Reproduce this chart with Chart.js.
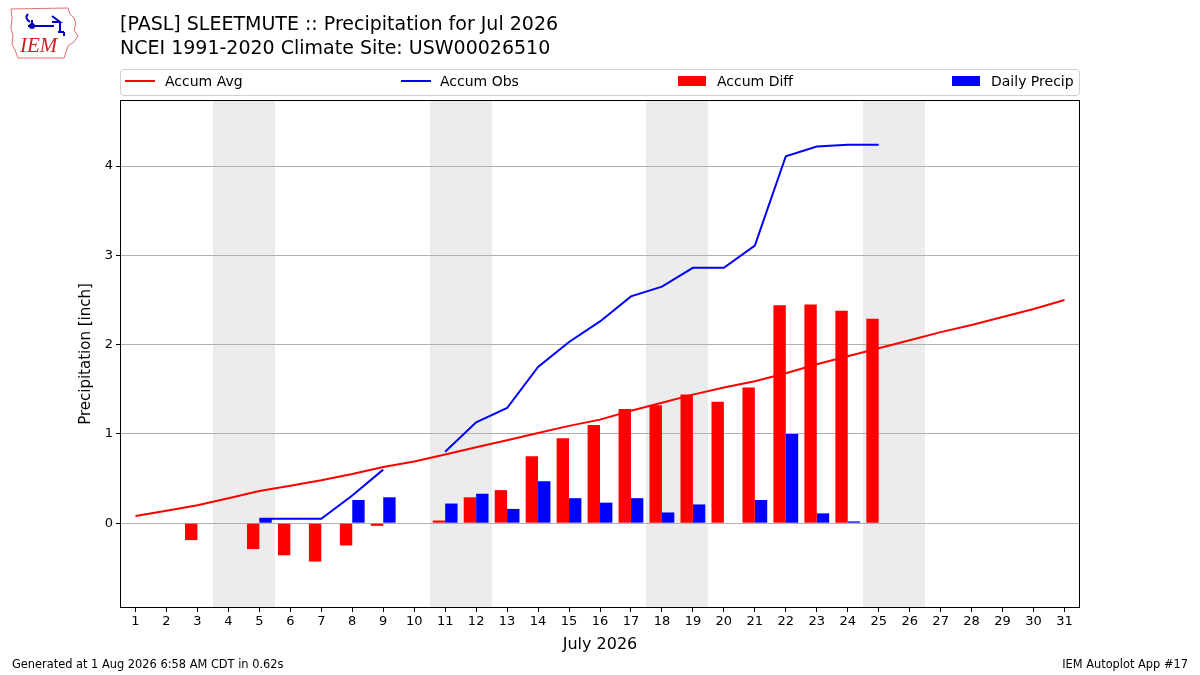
<html lang="en">
<head>
<meta charset="UTF-8">
<script src="https://cdn.jsdelivr.net/npm/chart.js"></script>
<title>Precipitation for Jul 2026</title>
<style>
  body { margin: 0; background: #fff; font-family: "DejaVu Sans", sans-serif; }
  #wrap { position: relative; width: 1200px; height: 675px; overflow: hidden; }
  #myChart { position: absolute; left: 0; top: 0; }
  .title { position: absolute; left: 120px; font-size: 19px; color: #000; white-space: nowrap; }
  #legend { position: absolute; left: 120px; top: 69px; width: 958px; height: 25px;
            border: 1px solid #d0d0d0; border-radius: 4px; font-size: 14px; }
  .item { position: absolute; top: -1px; height: 25px; line-height: 25px; white-space: nowrap; }
  .swline { position: absolute; top: 11px; width: 30px; height: 2px; }
  .swbox { position: absolute; top: 7px; width: 28px; height: 10px; }
  .foot { position: absolute; top: 657px; font-size: 11.4px; white-space: nowrap; }
</style>
</head>
<body>
<div id="wrap">
  <canvas id="myChart" width="1200" height="675"></canvas>
  <svg style="position:absolute;left:8px;top:6px" width="72" height="54" viewBox="0 0 72 54">
    <polygon points="3,3 60,2 62,8 66,12 68,18 66,24 70,30 66,36 60,40 58,46 56,52 10,52 7,44 4,38 5,30 3,22 4,12"
             fill="none" stroke="#e07070" stroke-width="1"/>
    <path d="M20,8 q-4,4 2,8 M24,14 l0,8 M20,20 l26,0 M44,10 l8,6 l-8,0 M52,16 l0,10 M50,26 l6,0 M56,26 l0,4"
          fill="none" stroke="#0000c0" stroke-width="2"/>
    <circle cx="24" cy="20" r="3" fill="#0000c0"/>
    <text x="12" y="46" font-family="Liberation Serif, serif" font-style="italic" font-size="21" fill="#d02020">IEM</text>
  </svg>
  <div class="title" style="top:12px">[PASL] SLEETMUTE :: Precipitation for Jul 2026</div>
  <div class="title" style="top:36px">NCEI 1991-2020 Climate Site: USW00026510</div>
  <div id="legend">
    <div class="item" style="left:4px"><span class="swline" style="left:0;background:#ff0000"></span><span style="margin-left:40px">Accum Avg</span></div>
    <div class="item" style="left:280px"><span class="swline" style="left:0;background:#0000ff"></span><span style="margin-left:39px">Accum Obs</span></div>
    <div class="item" style="left:557px"><span class="swbox" style="left:0;background:#ff0000"></span><span style="margin-left:39px">Accum Diff</span></div>
    <div class="item" style="left:831px"><span class="swbox" style="left:0;background:#0000ff"></span><span style="margin-left:39px">Daily Precip</span></div>
  </div>
  <div class="foot" style="left:12px">Generated at 1 Aug 2026 6:58 AM CDT in 0.62s</div>
  <div class="foot" style="right:12px">IEM Autoplot App #17</div>
</div>
<script>
const days = ['1','2','3','4','5','6','7','8','9','10','11','12','13','14','15','16',
              '17','18','19','20','21','22','23','24','25','26','27','28','29','30','31'];
const weekendDays = ['4','5','11','12','18','19','25','26'];
const yTicks = [0, 1, 2, 3, 4];

const accumAvg = [0.08,0.14,0.20,0.28,0.36,0.42,0.48,0.55,0.63,0.69,0.77,0.85,0.93,1.01,1.09,1.16,
                  1.26,1.35,1.44,1.52,1.59,1.68,1.78,1.87,1.96,2.05,2.14,2.22,2.31,2.40,2.50];
const accumObs = [null,null,0.01,null,0.05,0.05,0.05,0.31,0.60,null,0.80,1.13,1.29,1.75,2.03,2.26,
                  2.54,2.65,2.86,2.86,3.11,4.11,4.22,4.24,4.24,null,null,null,null,null,null];
const accumDiff = [null,null,-0.19,null,-0.29,-0.36,-0.43,-0.25,-0.03,null,0.03,0.29,0.37,0.75,0.95,1.10,
                   1.28,1.32,1.44,1.36,1.52,2.44,2.45,2.38,2.29,null,null,null,null,null,null];
const dailyPrecip = [null,null,0,null,0.05,0,0,0.26,0.29,null,0.22,0.33,0.16,0.47,0.28,0.23,
                     0.28,0.12,0.21,0,0.26,1.00,0.11,0.02,0,null,null,null,null,null,null];

// grey weekend bands + black frame round the plot
const weekendShade = {
  id: 'weekendShade',
  beforeDraw(chart) {
    const ctx = chart.ctx, a = chart.chartArea, x = chart.scales.x;
    const half = (x.getPixelForValue(1) - x.getPixelForValue(0)) / 2;
    ctx.save();
    ctx.fillStyle = '#ececec';
    weekendDays.forEach(d => {
      const px = x.getPixelForValue(days.indexOf(d));
      const x0 = Math.round(px - half), x1 = Math.round(px + half);
      ctx.fillRect(x0, a.top, x1 - x0, a.bottom - a.top);
    });
    ctx.restore();
  },
  afterDraw(chart) {
    const ctx = chart.ctx, a = chart.chartArea;
    ctx.save();
    ctx.strokeStyle = '#000';
    ctx.lineWidth = 1;
    ctx.strokeRect(a.left + 0.5, a.top + 0.5, a.right - a.left - 1, a.bottom - a.top - 1);
    ctx.restore();
  }
};

const ctx = document.getElementById('myChart');
new Chart(ctx, {
  type: 'bar',
  data: {
    labels: days,
    datasets: [
      { type: 'line', label: 'Accum Avg', data: accumAvg, borderColor: '#ff0000',
        borderWidth: 2, pointRadius: 0, tension: 0, order: 2 },
      { type: 'line', label: 'Accum Obs', data: accumObs, borderColor: '#0000ff',
        borderWidth: 2, pointRadius: 0, tension: 0, spanGaps: false, order: 1 },
      { label: 'Accum Diff', data: accumDiff, backgroundColor: '#ff0000',
        barPercentage: 1.0, categoryPercentage: 0.8, order: 3 },
      { label: 'Daily Precip', data: dailyPrecip, backgroundColor: '#0000ff',
        barPercentage: 1.0, categoryPercentage: 0.8, order: 4 }
    ]
  },
  options: {
    responsive: false,
    animation: false,
    layout: { padding: { left: 73, right: 120, top: 100, bottom: 17 } },
    plugins: { legend: { display: false }, tooltip: { enabled: false } },
    scales: {
      x: {
        afterFit(scale) { scale.height = 50; },
        grid: { drawOnChartArea: false, offset: false, tickLength: 4, tickColor: '#000' },
        border: { display: false },
        ticks: { color: '#000', font: { family: 'DejaVu Sans', size: 13 }, maxRotation: 0, autoSkip: false, padding: 2 },
        title: { display: true, text: 'July 2026', color: '#000', font: { family: 'DejaVu Sans', size: 16 } }
      },
      y: {
        min: -0.95,
        max: 4.74,
        afterFit(scale) { scale.width = 47; },
        afterBuildTicks(axis) { axis.ticks = yTicks.map(v => ({ value: v })); },
        grid: { color: '#b0b0b0', tickLength: 4, tickColor: '#000' },
        border: { display: false },
        ticks: { color: '#000', font: { family: 'DejaVu Sans', size: 13 }, padding: 3 },
        title: { display: true, text: 'Precipitation [inch]', color: '#000', font: { family: 'DejaVu Sans', size: 15 } }
      }
    }
  },
  plugins: [weekendShade]
});
</script>
</body>
</html>
